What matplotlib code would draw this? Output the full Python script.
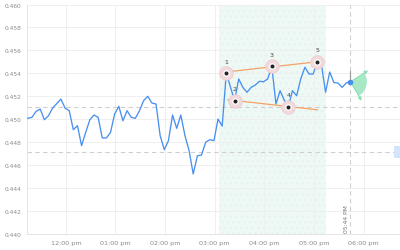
import pandas as pd
import matplotlib.pyplot as plt
import matplotlib.dates as mdates
import matplotlib.transforms as mtransforms
from matplotlib.patches import Wedge, Rectangle

# price series, 5 minute steps from 11:14 to 17:44
start_time = '2024-01-01 11:14'
prices = [0.45008, 0.45017, 0.45069, 0.45089, 0.44996, 0.45031, 0.45098, 0.45137,
          0.45176, 0.45098, 0.45075, 0.44909, 0.44944, 0.44770, 0.44886, 0.44996,
          0.45037, 0.45017, 0.44837, 0.44837, 0.44886, 0.45046, 0.45113, 0.44987,
          0.45075, 0.45017, 0.45008, 0.45075, 0.45162, 0.45200, 0.45142, 0.45133,
          0.44857, 0.44735, 0.44813, 0.45037, 0.44921, 0.45037, 0.44857, 0.44726,
          0.44523, 0.44682, 0.44688, 0.44799, 0.44822, 0.44813, 0.45002, 0.44941,
          0.45403, 0.45281, 0.45162, 0.45351, 0.45278, 0.45235, 0.45278, 0.45298,
          0.45331, 0.45327, 0.45351, 0.45461, 0.45133, 0.45249, 0.45168, 0.45111,
          0.45249, 0.45205, 0.45351, 0.45453, 0.45394, 0.45394, 0.45502, 0.45477,
          0.45235, 0.45412, 0.45320, 0.45316, 0.45278, 0.45316, 0.45327]

# pattern pivots (index into prices) and their labels
pivot_idx = [48, 50, 59, 63, 70]
pivot_labels = ['1', '2', '3', '4', '5']

# trend lines of the pattern
trend_times = ['2024-01-01 15:16', '2024-01-01 17:04']
upper_trend = [0.45414, 0.45501]
lower_trend = [0.45170, 0.45083]

pattern_span = ['2024-01-01 15:05', '2024-01-01 17:15']
levels = [0.45111, 0.44715]
now_label = '05:44 PM'
now_top = 0.45422

times = pd.date_range(start_time, periods=len(prices), freq='5min')
t_num = mdates.date2num(times)

fig = plt.figure(figsize=(4, 2.51), dpi=100)
ax = fig.add_axes([0.0675, 0.0637, 0.9325, 0.9143])

ax.set_ylim(0.440, 0.460)
ax.set_xlim(mdates.date2num(pd.Timestamp('2024-01-01 11:13')),
            mdates.date2num(pd.Timestamp('2024-01-01 18:44')))
ax.set_yticks([0.440, 0.442, 0.444, 0.446, 0.448, 0.450, 0.452, 0.454, 0.456, 0.458, 0.460])
ax.yaxis.set_major_formatter(plt.FuncFormatter(lambda v, p: f'{v:.3f}'))
ax.xaxis.set_major_locator(mdates.HourLocator())
ax.xaxis.set_major_formatter(plt.FuncFormatter(
    lambda v, p: mdates.num2date(v).strftime('%I:%M %p').lower()))
ax.tick_params(axis='y', length=0, labelsize=4.2, labelcolor='#8a8a8a', pad=4)
ax.tick_params(axis='x', length=0, labelsize=4.6, labelcolor='#8a8a8a', pad=4)
ax.grid(True, color='#efefef', linewidth=0.7)
ax.set_axisbelow(True)
for s in ['top', 'right']:
    ax.spines[s].set_visible(False)
for s in ['left', 'bottom']:
    ax.spines[s].set_color('#e4e4e4')
    ax.spines[s].set_linewidth(0.7)

# pattern area
plt.rcParams['hatch.linewidth'] = 0.5
ax.axvspan(pd.Timestamp(pattern_span[0]), pd.Timestamp(pattern_span[1]),
           facecolor='#eef8f5', edgecolor='#e3f1ec', hatch='...', linewidth=0, zorder=0)

for lv in levels:
    ax.axhline(lv, color='#cfcfcf', linewidth=0.8, dashes=(4, 3), zorder=1)

now_t = t_num[-1]
ax.axvline(now_t, color='#cfcfcf', linewidth=0.8, dashes=(4, 3), zorder=1)
ax.text(now_t - 0.0035, 0.4402, now_label, rotation=90, ha='center', va='bottom',
        fontsize=4.3, color='#777777')

ax.plot(times, prices, color='#4a90ee', linewidth=0.95, zorder=3)
ax.plot([now_t, now_t], [now_top, prices[-1]], color='#9a9a9a', linewidth=0.8, zorder=3)

tt = [pd.Timestamp(t) for t in trend_times]
ax.plot(tt, upper_trend, color='#f5a262', linewidth=0.9, zorder=4)
ax.plot(tt, lower_trend, color='#f5a262', linewidth=0.9, zorder=4)

px = [times[i] for i in pivot_idx]
py = [prices[i] for i in pivot_idx]
ax.scatter(px, py, s=95, color='#f1d9dc', edgecolor='#ecc9cd', linewidth=0.5, zorder=5)
ax.scatter(px, py, s=14, color='white', zorder=6)
ax.scatter(px, py, s=3.5, color='#222222', zorder=7)
for x, y, lab in zip(px, py, pivot_labels):
    ax.annotate(lab, (x, y), textcoords='offset points', xytext=(0, 8.5),
                ha='center', va='center', fontsize=4.5, color='#444444', zorder=8)

ax.scatter([now_t], [prices[-1]], s=9, color='#4a90ee', zorder=6)

# projection fan at the last price
tr = fig.dpi_scale_trans + mtransforms.ScaledTranslation(now_t, prices[-1], ax.transData)
ax.add_patch(Wedge((0, 0), 0.165, -60, 32, transform=tr, facecolor='#a8e8c6',
                   edgecolor='none', zorder=2, clip_on=False))
for dx, dy in [(0.20, 0.127), (0.126, -0.213)]:
    ax.annotate('', xy=(dx, dy), xycoords=tr, xytext=(0, 0), textcoords=tr,
                arrowprops=dict(arrowstyle='-|>', color='#86deb2', linewidth=0.7,
                                mutation_scale=5), zorder=2)

# price label box on the right edge, mostly cut off
ax.add_patch(Rectangle((0.984, levels[1] - 0.00055), 0.03, 0.0011,
                       transform=ax.get_yaxis_transform(), facecolor='#d3e4fb',
                       edgecolor='none', clip_on=False, zorder=3))

plt.savefig('out.png', dpi=100)
plt.close()
